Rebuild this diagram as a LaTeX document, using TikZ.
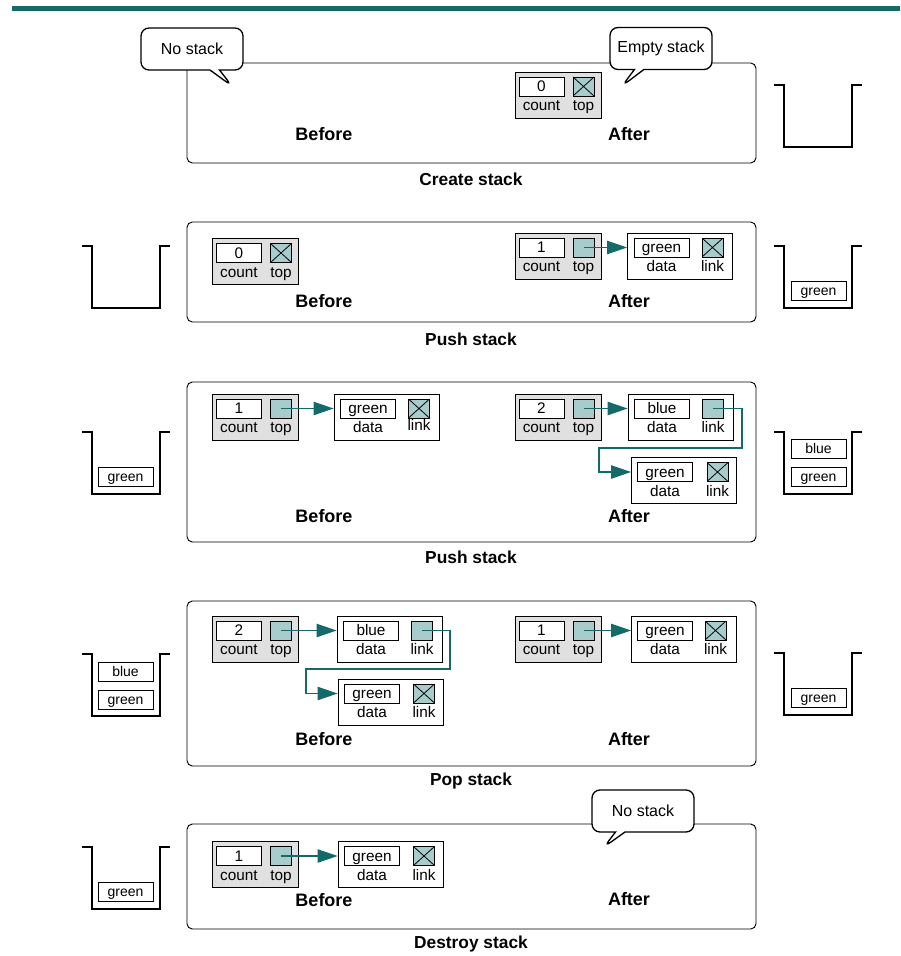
\documentclass[tikz,border=0pt]{standalone}
\usepackage{fontspec}
\setmainfont{Liberation Sans}
\definecolor{stkteal}{RGB}{20,105,105}
\definecolor{stkgray}{RGB}{224,224,224}
\definecolor{stkptr}{RGB}{168,204,204}
\usetikzlibrary{arrows.meta,positioning,shapes.callouts}

\begin{document}
\begin{tikzpicture}[x=0.75pt,y=-0.75pt,
  stackpanel/.style={draw,rounded corners=4pt,line width=0.7pt,minimum width=426.75pt,inner sep=0},
  caption/.style={font=\fontsize{13}{15}\selectfont\bfseries},
  phase/.style={font=\fontsize{13.5}{16}\selectfont\bfseries},
  fieldtext/.style={font=\fontsize{11.5}{13}\selectfont},
  headbox/.style={draw,fill=stkgray,line width=0.6pt,minimum width=64.5pt,minimum height=34.5pt,inner sep=0},
  listnode/.style={draw,fill=white,line width=0.6pt,minimum width=78.75pt,minimum height=34.5pt,inner sep=0},
  valbox/.style={draw,fill=white,line width=0.6pt,minimum height=14.25pt,inner sep=0,
    text height=8pt,text depth=0.5pt,fieldtext},
  cntbox/.style={valbox,minimum width=33.75pt},
  databox/.style={valbox,minimum width=41.25pt},
  ptrbox/.style={draw,fill=stkptr,line width=0.6pt,minimum width=15.75pt,minimum height=14.25pt,inner sep=0},
  nullbox/.style={ptrbox,path picture={
    \draw[line width=0.6pt] (path picture bounding box.south west) -- (path picture bounding box.north east)
      (path picture bounding box.north west) -- (path picture bounding box.south east);}},
  fieldlbl/.style={inner sep=0,text height=8pt,text depth=2pt,fieldtext},
  stackitem/.style={draw,fill=white,line width=0.6pt,minimum width=41.25pt,minimum height=14.25pt,
    inner sep=0,text height=7.5pt,text depth=0.5pt,font=\fontsize{10.5}{12}\selectfont},
  bucketline/.style={line width=2.2pt},
  note/.style={rectangle callout,draw,fill=white,line width=1pt,rounded corners=6pt,
    minimum width=76.5pt,minimum height=31.5pt,font=\fontsize{12}{14}\selectfont},
  ptr/.style={draw=stkteal,line width=0.9pt,-{Triangle[length=15pt,width=10pt]}}
]
  \useasboundingbox[fill=white] (0,0) rectangle (900,956);
  \fill[stkteal] (12,6) rectangle (900,11);

  % create stack
  \node[stackpanel,minimum height=75pt] (p1) at (471.5,113) {};
  \node[phase] (bf1) at (324,134) {Before};
  \node[phase] (af1) at (629,134) {After};
  \node[caption] (cap1) at (471,179) {Create stack};
  \node[headbox] (h1a) at (558,95) {};
  \node[cntbox] (c1a) at ([shift={(-16.5,-8.5)}]h1a.center) {0};
  \node[nullbox] (tp1a) at ([shift={(25.5,-8.5)}]h1a.center) {};
  \node[fieldlbl,below=2.5pt of c1a] (c1al) {count};
  \node[fieldlbl,below=2.5pt of tp1a] (tp1al) {top};
  \node[note,callout absolute pointer={(232,86)}] (note1) at (192,49) {No stack};
  \node[note,callout absolute pointer={(622,86)}] (note2) at (661,48.5) {Empty stack};
  \draw[bucketline] (774,85) -- ++(10,0) -- ++(0,62) -- ++(68,0) -- ++(0,-62) -- ++(10,0);

  % push stack (first)
  \node[stackpanel,minimum height=75pt] (p2) at (471.5,272) {};
  \node[phase] (bf2) at (324,301) {Before};
  \node[phase] (af2) at (629,301) {After};
  \node[caption] (cap2) at (471,339) {Push stack};
  \node[headbox] (h2b) at (255.5,261.5) {};
  \node[cntbox] (c2b) at ([shift={(-16.5,-8.5)}]h2b.center) {0};
  \node[nullbox] (tp2b) at ([shift={(25.5,-8.5)}]h2b.center) {};
  \node[fieldlbl,below=2.5pt of c2b] (c2bl) {count};
  \node[fieldlbl,below=2.5pt of tp2b] (tp2bl) {top};
  \node[headbox] (h2a) at (558,256) {};
  \node[cntbox] (c2a) at ([shift={(-16.5,-8.5)}]h2a.center) {1};
  \node[ptrbox] (tp2a) at ([shift={(25.5,-8.5)}]h2a.center) {};
  \node[fieldlbl,below=2.5pt of c2a] (c2al) {count};
  \node[fieldlbl,below=2.5pt of tp2a] (tp2al) {top};
  \node[listnode] (n2a) at (680,256) {};
  \node[databox] (d2a) at ([shift={(-18.5,-8.5)}]n2a.center) {green};
  \node[nullbox] (k2a) at ([shift={(32.5,-8.5)}]n2a.center) {};
  \node[fieldlbl,below=2.5pt of d2a] (d2al) {data};
  \node[fieldlbl,below=2.5pt of k2a] (k2al) {link};
  \draw[ptr] (tp2a.center) -- (tp2a.center -| n2a.west);
  \draw[bucketline] (82,246) -- ++(10,0) -- ++(0,62) -- ++(68,0) -- ++(0,-62) -- ++(10,0);
  \draw[bucketline] (774,246) -- ++(10,0) -- ++(0,62) -- ++(68,0) -- ++(0,-62) -- ++(10,0);
  \node[stackitem] (s2r1) at (818.5,291) {green};

  % push stack (second)
  \node[stackpanel,minimum height=120pt] (p3) at (471.5,462) {};
  \node[phase] (bf3) at (324,516) {Before};
  \node[phase] (af3) at (629,516) {After};
  \node[caption] (cap3) at (471,557) {Push stack};
  \node[headbox] (h3b) at (255.5,417) {};
  \node[cntbox] (c3b) at ([shift={(-16.5,-8.5)}]h3b.center) {1};
  \node[ptrbox] (tp3b) at ([shift={(25.5,-8.5)}]h3b.center) {};
  \node[fieldlbl,below=2.5pt of c3b] (c3bl) {count};
  \node[fieldlbl,below=2.5pt of tp3b] (tp3bl) {top};
  \node[listnode] (n3b) at (386.5,417) {};
  \node[databox] (d3b) at ([shift={(-18.5,-8.5)}]n3b.center) {green};
  \node[nullbox] (k3b) at ([shift={(32.5,-8.5)}]n3b.center) {};
  \node[fieldlbl,below=2.5pt of d3b] (d3bl) {data};
  \node[fieldlbl,below=1pt of k3b] (k3bl) {link};
  \draw[ptr] (tp3b.center) -- (tp3b.center -| n3b.west);
  \node[headbox] (h3a) at (558,417) {};
  \node[cntbox] (c3a) at ([shift={(-16.5,-8.5)}]h3a.center) {2};
  \node[ptrbox] (tp3a) at ([shift={(25.5,-8.5)}]h3a.center) {};
  \node[fieldlbl,below=2.5pt of c3a] (c3al) {count};
  \node[fieldlbl,below=2.5pt of tp3a] (tp3al) {top};
  \node[listnode] (n3a) at (680.5,417) {};
  \node[databox] (d3a) at ([shift={(-18.5,-8.5)}]n3a.center) {blue};
  \node[ptrbox] (k3a) at ([shift={(32.5,-8.5)}]n3a.center) {};
  \node[fieldlbl,below=2.5pt of d3a] (d3al) {data};
  \node[fieldlbl,below=2.5pt of k3a] (k3al) {link};
  \node[listnode] (n3a2) at (684,480.5) {};
  \node[databox] (d3a2) at ([shift={(-19,-8.5)}]n3a2.center) {green};
  \node[nullbox] (k3a2) at ([shift={(33.5,-8.5)}]n3a2.center) {};
  \node[fieldlbl,below=2.5pt of d3a2] (d3a2l) {data};
  \node[fieldlbl,below=2.5pt of k3a2] (k3a2l) {link};
  \draw[ptr] (tp3a.center) -- (tp3a.center -| n3a.west);
  \draw[ptr] (k3a.center) -- ++(29,0) |- (599,448) |- (d3a2.center -| n3a2.west);
  \draw[bucketline] (82,432) -- ++(10,0) -- ++(0,62) -- ++(68,0) -- ++(0,-62) -- ++(10,0);
  \node[stackitem] (s3l1) at (125.5,477) {green};
  \draw[bucketline] (774,432) -- ++(10,0) -- ++(0,62) -- ++(68,0) -- ++(0,-62) -- ++(10,0);
  \node[stackitem] (s3r2) at (818.5,448.5) {blue};
  \node[stackitem] (s3r1) at (818.5,476.5) {green};

  % pop stack
  \node[stackpanel,minimum height=123.75pt] (p4) at (471.5,683.5) {};
  \node[phase] (bf4) at (324,739) {Before};
  \node[phase] (af4) at (629,739) {After};
  \node[caption] (cap4) at (471,781) {Pop stack};
  \node[headbox] (h4b) at (255.5,639) {};
  \node[cntbox] (c4b) at ([shift={(-16.5,-8.5)}]h4b.center) {2};
  \node[ptrbox] (tp4b) at ([shift={(25.5,-8.5)}]h4b.center) {};
  \node[fieldlbl,below=2.5pt of c4b] (c4bl) {count};
  \node[fieldlbl,below=2.5pt of tp4b] (tp4bl) {top};
  \node[listnode] (n4b) at (389.5,639) {};
  \node[databox] (d4b) at ([shift={(-18.5,-8.5)}]n4b.center) {blue};
  \node[ptrbox] (k4b) at ([shift={(32.5,-8.5)}]n4b.center) {};
  \node[fieldlbl,below=2.5pt of d4b] (d4bl) {data};
  \node[fieldlbl,below=2.5pt of k4b] (k4bl) {link};
  \node[listnode] (n4b2) at (390.5,702) {};
  \node[databox] (d4b2) at ([shift={(-18.5,-8.5)}]n4b2.center) {green};
  \node[nullbox] (k4b2) at ([shift={(33.5,-8.5)}]n4b2.center) {};
  \node[fieldlbl,below=2.5pt of d4b2] (d4b2l) {data};
  \node[fieldlbl,below=2.5pt of k4b2] (k4b2l) {link};
  \draw[ptr] (tp4b.center) -- (tp4b.center -| n4b.west);
  \draw[ptr] (k4b.center) -- ++(28,0) |- (306,669) |- (d4b2.center -| n4b2.west);
  \node[headbox] (h4a) at (558,639) {};
  \node[cntbox] (c4a) at ([shift={(-16.5,-8.5)}]h4a.center) {1};
  \node[ptrbox] (tp4a) at ([shift={(25.5,-8.5)}]h4a.center) {};
  \node[fieldlbl,below=2.5pt of c4a] (c4al) {count};
  \node[fieldlbl,below=2.5pt of tp4a] (tp4al) {top};
  \node[listnode] (n4a) at (684,639) {};
  \node[databox] (d4a) at ([shift={(-19,-8.5)}]n4a.center) {green};
  \node[nullbox] (k4a) at ([shift={(31.5,-8.5)}]n4a.center) {};
  \node[fieldlbl,below=2.5pt of d4a] (d4al) {data};
  \node[fieldlbl,below=2.5pt of k4a] (k4al) {link};
  \draw[ptr] (tp4a.center) -- (tp4a.center -| n4a.west);
  \draw[bucketline] (82,654) -- ++(10,0) -- ++(0,62) -- ++(68,0) -- ++(0,-62) -- ++(10,0);
  \node[stackitem] (s4l2) at (125.5,672) {blue};
  \node[stackitem] (s4l1) at (125.5,699.5) {green};
  \draw[bucketline] (774,653) -- ++(10,0) -- ++(0,62) -- ++(68,0) -- ++(0,-62) -- ++(10,0);
  \node[stackitem] (s4r1) at (818.5,698) {green};

  % destroy stack
  \node[stackpanel,minimum height=78.75pt] (p5) at (471.5,876.5) {};
  \node[phase] (bf5) at (324,900) {Before};
  \node[phase] (af5) at (629,899) {After};
  \node[caption] (cap5) at (471,944) {Destroy stack};
  \node[headbox] (h5b) at (255.5,864.5) {};
  \node[cntbox] (c5b) at ([shift={(-16.5,-8.5)}]h5b.center) {1};
  \node[ptrbox] (tp5b) at ([shift={(25.5,-8.5)}]h5b.center) {};
  \node[fieldlbl,below=2.5pt of c5b] (c5bl) {count};
  \node[fieldlbl,below=2.5pt of tp5b] (tp5bl) {top};
  \node[listnode] (n5b) at (390.5,864.5) {};
  \node[databox] (d5b) at ([shift={(-18.5,-8.5)}]n5b.center) {green};
  \node[nullbox] (k5b) at ([shift={(33.5,-8.5)}]n5b.center) {};
  \node[fieldlbl,below=2.5pt of d5b] (d5bl) {data};
  \node[fieldlbl,below=2.5pt of k5b] (k5bl) {link};
  \draw[ptr] (tp5b.center) -- (tp5b.center -| n5b.west);
  \node[note,callout absolute pointer={(604,847)}] (note3) at (643,811) {No stack};
  \draw[bucketline] (82,847) -- ++(10,0) -- ++(0,62) -- ++(68,0) -- ++(0,-62) -- ++(10,0);
  \node[stackitem] (s5l1) at (125.5,891.5) {green};
\end{tikzpicture}
\end{document}
